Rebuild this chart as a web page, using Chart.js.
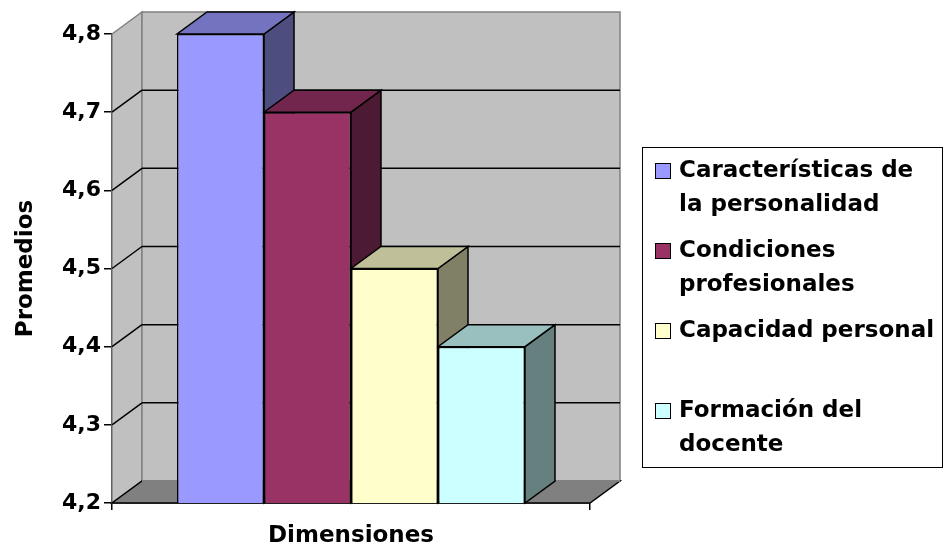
<!DOCTYPE html>
<html>
<head>
<meta charset="utf-8">
<script src="https://cdn.jsdelivr.net/npm/chart.js@4"></script>
<style>
body { margin: 0; background: #fff; }
#wrap { width: 946px; height: 552px; }
</style>
</head>
<body>
<div id="wrap"><canvas id="chart"></canvas></div>
<script>
var categories = [''];
var series_names = ['Características de la personalidad', 'Condiciones profesionales', 'Capacidad personal', 'Formación del docente'];
var legend_lines = [['Características de', 'la personalidad'], ['Condiciones', 'profesionales'], ['Capacidad personal'], ['Formación del', 'docente']];
var series_values = [4.8, 4.7, 4.5, 4.4];
var series_colors = ['#9999FF', '#993366', '#FFFFCC', '#CCFFFF'];
var y_ticks = [4.2, 4.3, 4.4, 4.5, 4.6, 4.7, 4.8];

// depth of the fake 3d box
var DX = 30, DY = -22;

function shade(hex, f) {
	var n = parseInt(hex.slice(1), 16);
	var r = Math.round(((n >> 16) & 255) * f);
	var g = Math.round(((n >> 8) & 255) * f);
	var b = Math.round((n & 255) * f);
	return 'rgb(' + r + ',' + g + ',' + b + ')';
}

function poly(ctx, pts, fill, stroke, width) {
	ctx.beginPath();
	ctx.moveTo(pts[0][0], pts[0][1]);
	for (var i = 1; i < pts.length; i++) ctx.lineTo(pts[i][0], pts[i][1]);
	ctx.closePath();
	ctx.fillStyle = fill;
	ctx.fill();
	ctx.lineWidth = width;
	ctx.strokeStyle = stroke;
	ctx.stroke();
}

function line(ctx, x1, y1, x2, y2) {
	ctx.beginPath();
	ctx.moveTo(x1, y1);
	ctx.lineTo(x2, y2);
	ctx.stroke();
}

var box3d = {
	id: 'box3d',
	beforeDatasetsDraw: function (chart) {
		var ctx = chart.ctx, a = chart.chartArea, y = chart.scales.y;
		ctx.save();
		// left wall and back wall
		poly(ctx, [[a.left, a.top], [a.left + DX, a.top + DY], [a.left + DX, a.bottom + DY], [a.left, a.bottom]], '#C0C0C0', '#808080', 1.5);
		poly(ctx, [[a.left + DX, a.top + DY], [a.right + DX, a.top + DY], [a.right + DX, a.bottom + DY], [a.left + DX, a.bottom + DY]], '#C0C0C0', '#808080', 1.5);
		// grid lines on the walls
		ctx.strokeStyle = '#000';
		ctx.lineWidth = 1.5;
		y_ticks.slice(1, -1).forEach(function (v) {
			var py = y.getPixelForValue(v);
			line(ctx, a.left, py, a.left + DX, py + DY);
			line(ctx, a.left + DX, py + DY, a.right + DX, py + DY);
		});
		// floor
		poly(ctx, [[a.left, a.bottom], [a.right, a.bottom], [a.right + DX, a.bottom + DY], [a.left + DX, a.bottom + DY]], '#808080', '#000', 1.5);
		ctx.strokeStyle = '#A0A0A0';
		line(ctx, a.left + DX, a.bottom + DY, a.right + DX, a.bottom + DY);
		// side and top faces of the bars, left to right
		var floor = y.getPixelForValue(y_ticks[0]);
		chart.data.datasets.forEach(function (ds, i) {
			var bar = chart.getDatasetMeta(i).data[0];
			var l = bar.x - bar.width / 2, r = bar.x + bar.width / 2, t = bar.y, b = Math.min(bar.base, floor);
			poly(ctx, [[r, t], [r + DX, t + DY], [r + DX, b + DY], [r, b]], shade(series_colors[i], 0.5), '#000', 1.5);
			poly(ctx, [[l, t], [r, t], [r + DX, t + DY], [l + DX, t + DY]], shade(series_colors[i], 0.75), '#000', 1.5);
		});
		ctx.restore();
	},
	afterDraw: function (chart) {
		var ctx = chart.ctx;
		ctx.save();
		ctx.lineWidth = 1;
		ctx.strokeStyle = '#000';
		ctx.strokeRect(642.5, 147.5, 300, 320);
		ctx.font = 'bold 23px "DejaVu Sans"';
		ctx.textBaseline = 'middle';
		ctx.textAlign = 'left';
		legend_lines.forEach(function (lines, i) {
			var sy = 171 + 80 * i;
			ctx.fillStyle = series_colors[i];
			ctx.fillRect(655.5, sy - 7.5, 15, 15);
			ctx.strokeRect(655.5, sy - 7.5, 15, 15);
			ctx.fillStyle = '#000';
			lines.forEach(function (txt, j) {
				ctx.fillText(txt, 679, sy + 34 * j);
			});
		});
		ctx.restore();
	}
};

Chart.defaults.font.family = '"DejaVu Sans", sans-serif';
Chart.defaults.font.weight = 'bold';
Chart.defaults.color = '#000';

var datasets = series_names.map(function (name, i) {
	return {
		label: name,
		data: [series_values[i]],
		backgroundColor: series_colors[i],
		borderColor: '#000',
		borderWidth: 1.5,
		barPercentage: 1,
		categoryPercentage: 0.728
	};
});

new Chart(document.getElementById('chart'), {
	type: 'bar',
	data: { labels: categories, datasets: datasets },
	options: {
		responsive: true,
		maintainAspectRatio: false,
		animation: false,
		layout: { padding: { left: 8, top: 34, right: 356, bottom: 0 } },
		plugins: { legend: { display: false }, tooltip: { enabled: false } },
		scales: {
			x: {
				z: 1,
				grid: { drawOnChartArea: false, tickLength: 7, color: '#000', lineWidth: 1.5 },
				border: { color: '#000', width: 1.5 },
				ticks: { display: false },
				title: { display: true, text: 'Dimensiones', font: { size: 23, weight: 'bold' }, padding: { top: 0, bottom: 2 } },
				afterFit: function (s) { s.height = 49; }
			},
			y: {
				z: 1,
				min: y_ticks[0],
				max: y_ticks[y_ticks.length - 1],
				afterBuildTicks: function (s) { s.ticks = y_ticks.map(function (v) { return { value: v }; }); },
				ticks: {
					font: { size: 22, weight: 'bold' },
					padding: 3,
					callback: function (v) { return v.toFixed(1).replace('.', ','); }
				},
				grid: { drawOnChartArea: false, tickLength: 8, color: '#000', lineWidth: 1.5 },
				border: { color: '#000', width: 1.5 },
				title: { display: true, text: 'Promedios', font: { size: 23, weight: 'bold' }, padding: { top: 4, bottom: 0 } },
				afterFit: function (s) { s.width = 104; }
			}
		}
	},
	plugins: [box3d]
});
</script>
</body>
</html>
